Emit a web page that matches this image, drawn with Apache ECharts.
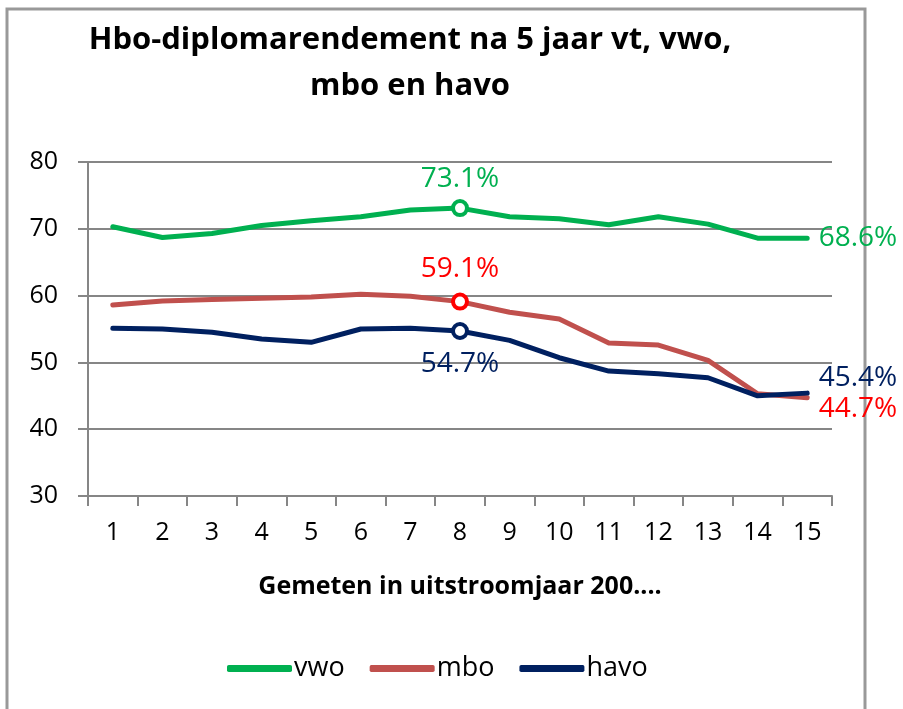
<!DOCTYPE html>
<html lang="nl">
<head>
    <meta charset="utf-8">
    <title>Hbo-diplomarendement</title>
    <script src="https://cdn.jsdelivr.net/npm/echarts@6/dist/echarts.min.js"></script>
    <style>
        html, body { margin: 0; padding: 0; background: #fff; }
        #myCharts { width: 903px; height: 709px; }
    </style>
</head>
<body>
<div id="myCharts"></div>
<script type="text/javascript">
    // uitstroomjaar 200.. (1 t/m 15)
    var years = ['1', '2', '3', '4', '5', '6', '7', '8', '9', '10', '11', '12', '13', '14', '15'];
    var vwo  = [70.3, 68.7, 69.3, 70.5, 71.2, 71.8, 72.8, 73.1, 71.8, 71.5, 70.6, 71.8, 70.7, 68.6, 68.6];
    var mbo  = [58.6, 59.2, 59.4, 59.6, 59.8, 60.2, 59.9, 59.1, 57.5, 56.5, 52.9, 52.6, 50.3, 45.3, 44.7];
    var havo = [55.1, 55.0, 54.5, 53.5, 53.0, 55.0, 55.1, 54.7, 53.3, 50.7, 48.7, 48.3, 47.7, 45.0, 45.4];

    var font = "'Open Sans', 'Noto Sans', sans-serif";
    var grey = '#868686';

    // punt 8 krijgt een open cirkel + label, punt 15 alleen een label
    function buildData(values, lineColor, labelColor, midLabel, endLabel) {
        return values.map(function (v, i) {
            var item = { value: v };
            if (i === 7) {
                item.symbol = 'circle';
                item.symbolSize = 14;
                item.itemStyle = { color: '#fff', borderColor: labelColor, borderWidth: 4 };
                item.label = Object.assign({ show: true, color: labelColor }, midLabel);
            } else if (i === values.length - 1) {
                item.symbol = 'circle';
                item.symbolSize = 1;
                item.itemStyle = { color: lineColor, borderWidth: 0 };
                item.label = Object.assign({ show: true, color: labelColor, position: 'right', distance: 11 }, endLabel);
            }
            return item;
        });
    }

    function lineSeries(name, values, lineColor, labelColor, midLabel, endLabel) {
        return {
            name: name,
            type: 'line',
            symbol: 'none',
            color: lineColor,
            lineStyle: { color: lineColor, width: 5, cap: 'round', join: 'round' },
            label: {
                fontSize: 28,
                fontFamily: font,
                formatter: function (p) { return p.value.toFixed(1) + '%'; }
            },
            emphasis: { disabled: true },
            data: buildData(values, lineColor, labelColor, midLabel, endLabel)
        };
    }

    var myCharts = echarts.init(document.getElementById('myCharts'), null, { renderer: 'canvas' });
    var option = {
        animation: false,
        backgroundColor: '#fff',
        title: {
            text: 'Hbo-diplomarendement na 5 jaar vt, vwo,\nmbo en havo',
            left: 410,
            top: 17,
            padding: 0,
            textAlign: 'center',
            textStyle: {
                fontFamily: font,
                fontWeight: 'bold',
                fontSize: 31,
                lineHeight: 46,
                color: '#000'
            }
        },
        graphic: [{
            type: 'rect',
            z: -10,
            shape: { x: 7, y: 9, width: 858, height: 760 },
            style: { fill: 'none', stroke: '#999', lineWidth: 3 }
        }],
        legend: {
            left: 222,
            top: 650,
            icon: 'roundRect',
            itemWidth: 65,
            itemHeight: 7,
            itemGap: 25,
            textStyle: { fontFamily: font, fontSize: 27, color: '#000', padding: [0, 0, 0, -3] },
            data: ['vwo', 'mbo', 'havo']
        },
        grid: {
            left: 88,
            right: 71,
            top: 162,
            bottom: 213,
            containLabel: false
        },
        xAxis: {
            type: 'category',
            data: years,
            boundaryGap: true,
            name: 'Gemeten in uitstroomjaar 200....',
            nameLocation: 'middle',
            nameGap: 78,
            nameTextStyle: { fontFamily: font, fontWeight: 'bold', fontSize: 25, color: '#000' },
            axisLine: { lineStyle: { color: grey, width: 2 } },
            axisTick: { show: true, length: 10, lineStyle: { color: grey, width: 2 } },
            axisLabel: { fontFamily: font, fontSize: 25, color: '#000', margin: 24 }
        },
        yAxis: {
            type: 'value',
            min: 30,
            max: 80,
            interval: 10,
            axisLine: { show: true, lineStyle: { color: grey, width: 2 } },
            axisTick: { show: true, length: 10, lineStyle: { color: grey, width: 2 } },
            axisLabel: { fontFamily: font, fontSize: 25, color: '#000', margin: 30 },
            splitLine: { show: true, lineStyle: { color: grey, width: 2 } }
        },
        series: [
            lineSeries('vwo', vwo, '#00b050', '#00b050',
                { position: 'top', distance: 6 }, { offset: [0, 0] }),
            lineSeries('mbo', mbo, '#c0504d', '#ff0000',
                { position: 'top', distance: 10 }, { offset: [0, 11] }),
            lineSeries('havo', havo, '#002060', '#002060',
                { position: 'bottom', distance: 10 }, { offset: [0, -15] })
        ]
    };
    myCharts.setOption(option);
</script>
</body>
</html>
